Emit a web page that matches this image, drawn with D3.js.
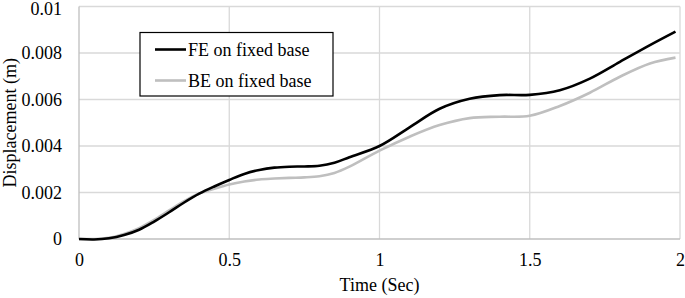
<!DOCTYPE html>
<html>
<head>
<meta charset="utf-8">
<script src="https://cdn.jsdelivr.net/npm/d3@7"></script>
<style>
    body { margin: 0; background: #fff; }
    text { font-family: "Liberation Serif", "Times New Roman", serif; fill: #000; }
</style>
</head>
<body>
<svg id="chart" width="685" height="298"></svg>
<script>
// time (s) and displacement (m)
let timeSec = [0, 0.05, 0.1, 0.15, 0.2, 0.25, 0.3, 0.35, 0.4, 0.45, 0.5, 0.55, 0.6, 0.65, 0.7, 0.75, 0.8, 0.85, 0.9, 1.0,
    1.1, 1.2, 1.3, 1.4, 1.5, 1.6, 1.7, 1.8, 1.9, 1.985];
let feFixed = [0, -0.00002, 0.00003, 0.00017, 0.0004, 0.00075, 0.00115, 0.00157, 0.00195, 0.00226, 0.00254, 0.0028, 0.00297, 0.00307, 0.00311, 0.00312, 0.00315, 0.00328, 0.00352, 0.004,
    0.0048, 0.0056, 0.00603, 0.00619, 0.0062, 0.0064, 0.0069, 0.00762, 0.00834, 0.00892];
let beFixed = [0, 0, 0.00005, 0.00022, 0.00047, 0.00082, 0.00123, 0.00163, 0.00196, 0.00216, 0.00234, 0.00247, 0.00256, 0.0026, 0.00263, 0.00265, 0.0027, 0.00284, 0.00311, 0.0038,
    0.0044, 0.0049, 0.0052, 0.00526, 0.0053, 0.00572, 0.00629, 0.00698, 0.00755, 0.0078];
let xTicks = [0, 0.5, 1, 1.5, 2];
let yTicks = [0, 0.002, 0.004, 0.006, 0.008, 0.01];
let seriesNames = ["FE on fixed base", "BE on fixed base"];

let svg = d3.select("#chart"),
    margin = {top: 6.5, right: 5, bottom: 59, left: 79},
    width = 685 - margin.left - margin.right,
    height = 298 - margin.top - margin.bottom;

let xScale = d3.scaleLinear().domain([0, 2]).range([margin.left, margin.left + width]);
let yScale = d3.scaleLinear().domain([0, 0.01]).range([margin.top + height, margin.top]);

// gridlines
svg.append("g").selectAll("line.h").data(yTicks.slice(1)).enter()
    .append("line")
    .attr("x1", xScale(0)).attr("x2", xScale(2))
    .attr("y1", d => yScale(d)).attr("y2", d => yScale(d))
    .attr("stroke", "#d9d9d9").attr("stroke-width", 1.3);
svg.append("g").selectAll("line.v").data(xTicks.slice(1)).enter()
    .append("line")
    .attr("x1", d => xScale(d)).attr("x2", d => xScale(d))
    .attr("y1", yScale(0)).attr("y2", yScale(0.01))
    .attr("stroke", "#d9d9d9").attr("stroke-width", 1.3);

// axis lines
svg.append("line")
    .attr("x1", xScale(0)).attr("x2", xScale(0))
    .attr("y1", yScale(0)).attr("y2", yScale(0.01))
    .attr("stroke", "#bfbfbf").attr("stroke-width", 1.3);
svg.append("line")
    .attr("x1", xScale(0)).attr("x2", xScale(2))
    .attr("y1", yScale(0)).attr("y2", yScale(0))
    .attr("stroke", "#bfbfbf").attr("stroke-width", 1.3);

// axes (labels only)
let yAxis = d3.axisLeft(yScale).tickValues(yTicks).tickSize(0).tickPadding(17)
    .tickFormat(d => d === 0 ? "0" : String(+d.toFixed(3)));
let gy = svg.append("g").attr("transform", "translate(" + margin.left + ",0)").call(yAxis);
gy.select(".domain").remove();
gy.selectAll("text").style("font-size", "18px").style("font-family", "Liberation Serif");
// keep the top label inside the picture
gy.selectAll(".tick").filter(d => d === 0.01).select("text").attr("dy", "0.45em");

let xAxis = d3.axisBottom(xScale).tickValues(xTicks).tickSize(0).tickPadding(14)
    .tickFormat(d => String(d));
let gx = svg.append("g").attr("transform", "translate(0," + (margin.top + height) + ")").call(xAxis);
gx.select(".domain").remove();
gx.selectAll("text").style("font-size", "18px").style("font-family", "Liberation Serif");

// axis titles
svg.append("text")
    .attr("x", (xScale(0) + xScale(2)) / 2).attr("y", 291)
    .attr("text-anchor", "middle").style("font-size", "18px")
    .text("Time (Sec)");
svg.append("text")
    .attr("transform", "translate(16," + yScale(0.005) + ") rotate(-90)")
    .attr("text-anchor", "middle").style("font-size", "18px")
    .text("Displacement (m)");

// lines
let line = d3.line()
    .x(d => xScale(d[0]))
    .y(d => yScale(d[1]))
    .curve(d3.curveCatmullRom.alpha(0.5));

svg.append("path")
    .datum(timeSec.map((t, i) => [t, beFixed[i]]))
    .attr("d", line).attr("fill", "none")
    .attr("stroke", "#bfbfbf").attr("stroke-width", 2.6);
svg.append("path")
    .datum(timeSec.map((t, i) => [t, feFixed[i]]))
    .attr("d", line).attr("fill", "none")
    .attr("stroke", "#000").attr("stroke-width", 2.6);

// legend
let legend = svg.append("g");
legend.append("rect")
    .attr("x", 140).attr("y", 32.5).attr("width", 193).attr("height", 63.5)
    .attr("fill", "#fff").attr("stroke", "#000").attr("stroke-width", 1.2);
let colors = ["#000", "#bfbfbf"];
seriesNames.forEach(function (name, i) {
    let ly = 49.5 + i * 31;
    legend.append("line")
        .attr("x1", 155).attr("x2", 186).attr("y1", ly).attr("y2", ly)
        .attr("stroke", colors[i]).attr("stroke-width", 2.6);
    legend.append("text")
        .attr("x", 188).attr("y", ly + 6)
        .style("font-size", "18px")
        .style("font-family", "Liberation Serif")
        .text(name);
});
</script>
</body>
</html>
